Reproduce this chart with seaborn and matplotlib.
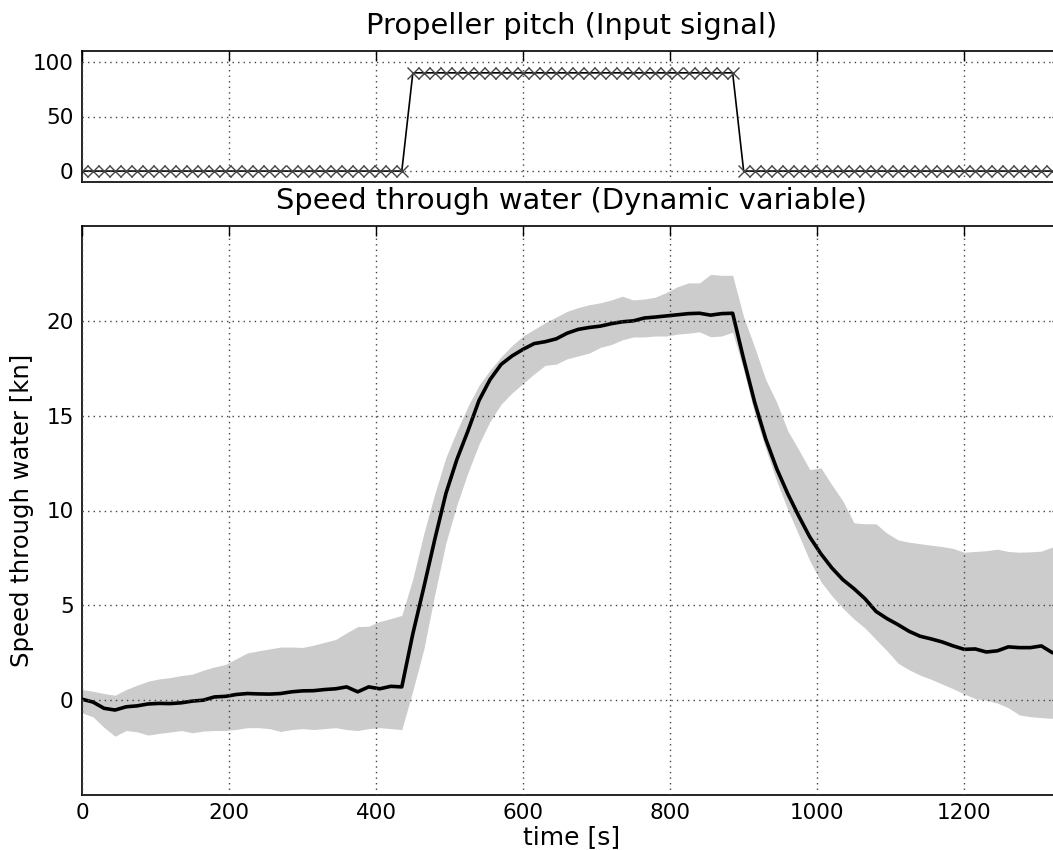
import matplotlib
matplotlib.use("Agg")
import matplotlib.pyplot as plt
import seaborn as sns
import pandas as pd

# ---------------- data ----------------
time_s = [0, 15, 30, 45, 60, 75, 90, 105, 120, 135, 150, 165, 180, 195, 210, 225,
          240, 255, 270, 285, 300, 315, 330, 345, 360, 375, 390, 405, 420, 435,
          450, 465, 480, 495, 510, 525, 540, 555, 570, 585, 600, 615, 630, 645, 660,
          675, 690, 705, 720, 735, 750, 765, 780, 795, 810, 825, 840, 855, 870, 885,
          900, 915, 930, 945, 960, 975, 990, 1005, 1020, 1035, 1050, 1065, 1080, 1095,
          1110, 1125, 1140, 1155, 1170, 1185, 1200, 1215, 1230, 1245, 1260, 1275, 1290,
          1305, 1320]

pitch = [0, 0, 0, 0, 0, 0, 0, 0, 0, 0, 0, 0, 0, 0, 0, 0, 0, 0, 0, 0, 0, 0, 0, 0, 0, 0, 0, 0, 0, 0,
         90, 90, 90, 90, 90, 90, 90, 90, 90, 90, 90, 90, 90, 90, 90, 90, 90, 90, 90, 90,
         90, 90, 90, 90, 90, 90, 90, 90, 90, 90,
         0, 0, 0, 0, 0, 0, 0, 0, 0, 0, 0, 0, 0, 0, 0, 0, 0, 0, 0, 0, 0, 0, 0, 0, 0, 0, 0, 0, 0]

speed_mean = [0.05, -0.1, -0.43, -0.52, -0.35, -0.3, -0.2, -0.17, -0.18, -0.14, -0.05, 0.0,
              0.17, 0.2, 0.3, 0.35, 0.33, 0.32, 0.35, 0.44, 0.49, 0.5, 0.56, 0.6, 0.7, 0.44,
              0.7, 0.6, 0.73, 0.7,
              3.5, 5.96, 8.5, 10.9, 12.7, 14.2, 15.8, 16.9, 17.7, 18.15, 18.5, 18.8, 18.9,
              19.05, 19.35, 19.55, 19.65, 19.72, 19.85, 19.95, 20.0, 20.15, 20.2, 20.26,
              20.32, 20.38, 20.4, 20.3, 20.38, 20.4,
              17.98, 15.7, 13.77, 12.2, 10.88, 9.7, 8.6, 7.72, 6.97, 6.35, 5.88, 5.35, 4.68,
              4.3, 3.98, 3.63, 3.37, 3.23, 3.07, 2.86, 2.68, 2.7, 2.54, 2.6, 2.81, 2.77, 2.77,
              2.86, 2.5]

speed_upper = [0.56, 0.47, 0.35, 0.26, 0.56, 0.79, 1.0, 1.12, 1.19, 1.3, 1.37, 1.58, 1.75,
               1.88, 2.19, 2.49, 2.6, 2.7, 2.8, 2.8, 2.78, 2.9, 3.05, 3.2, 3.55, 3.88, 3.9,
               4.15, 4.3, 4.47,
               6.4, 8.8, 10.9, 12.8, 14.2, 15.5, 16.6, 17.4, 18.1, 18.7, 19.2, 19.55, 19.9,
               20.2, 20.5, 20.7, 20.85, 20.95, 21.1, 21.3, 21.1, 21.15, 21.25, 21.5, 21.8,
               22.0, 22.0, 22.45, 22.4, 22.4,
               20.2, 18.6, 16.9, 15.7, 14.2, 13.2, 12.15, 12.25, 11.35, 10.5, 9.35, 9.3, 9.3,
               8.8, 8.45, 8.33, 8.25, 8.17, 8.1, 8.0, 7.8, 7.84, 7.88, 7.96, 7.84, 7.8, 7.82,
               7.86, 8.07]

speed_lower = [-0.67, -0.88, -1.44, -1.9, -1.6, -1.67, -1.84, -1.75, -1.68, -1.6, -1.72,
               -1.63, -1.6, -1.6, -1.54, -1.45, -1.45, -1.5, -1.65, -1.55, -1.5, -1.55, -1.5,
               -1.45, -1.55, -1.6, -1.5, -1.45, -1.5, -1.55,
               0.5, 2.7, 5.6, 8.3, 10.3, 12.0, 13.5, 14.7, 15.6, 16.2, 16.7, 17.2, 17.65,
               17.72, 18.0, 18.15, 18.3, 18.6, 18.75, 19.0, 19.15, 19.15, 19.2, 19.2, 19.3,
               19.35, 19.42, 19.16, 19.2, 19.4,
               17.4, 15.1, 13.25, 11.55, 10.05, 8.7, 7.35, 6.25, 5.5, 4.85, 4.28, 3.8, 3.2,
               2.6, 1.95, 1.6, 1.32, 1.1, 0.85, 0.6, 0.33, 0.08, 0.0, -0.15, -0.4, -0.78,
               -0.87, -0.92, -0.96]

x_ticks = [0, 200, 400, 600, 800, 1000, 1200]
pitch_ticks = [0, 50, 100]
speed_ticks = [0, 5, 10, 15, 20]

# ---------------- style ----------------
sns.set_style("white")
plt.rcParams.update({
    "font.family": ["DejaVu Sans"],
    "text.color": "black",
    "axes.labelcolor": "black",
    "axes.titlecolor": "black",
    "xtick.direction": "in",
    "ytick.direction": "in",
    "xtick.top": True,
    "ytick.right": True,
    "xtick.major.size": 7,
    "ytick.major.size": 7,
    "xtick.major.width": 1.0,
    "ytick.major.width": 1.0,
    "xtick.color": "black",
    "ytick.color": "black",
    "xtick.labelcolor": "black",
    "ytick.labelcolor": "black",
    "axes.edgecolor": "black",
    "axes.linewidth": 1.2,
    "axes.axisbelow": False,
})

df = pd.DataFrame({"time": time_s, "pitch": pitch, "mean": speed_mean,
                   "upper": speed_upper, "lower": speed_lower})

W, H = 1053, 850
fig = plt.figure(figsize=(W / 100, H / 100), dpi=100)
ax1 = fig.add_axes([82 / W, 1 - 182 / H, 980 / W, 131 / H])
ax2 = fig.add_axes([82 / W, 1 - 795 / H, 980 / W, 569 / H])

grid_kw = dict(color="#444444", linestyle=(0, (1, 3)), linewidth=1.0)

# top: propeller pitch
sns.lineplot(data=df, x="time", y="pitch", ax=ax1, color="black", linewidth=1.2,
             marker="x", markersize=8, markeredgecolor="#444444", markeredgewidth=1.0,
             estimator=None, sort=False)
ax1.set_xlim(0, 1333)
ax1.set_ylim(-10, 110)
ax1.set_xticks(x_ticks)
ax1.set_xticklabels([])
ax1.set_yticks(pitch_ticks)
ax1.grid(True, **grid_kw)
ax1.set_xlabel("")
ax1.set_ylabel("")
ax1.tick_params(labelsize=15.5, pad=6)
ax1.set_title("Propeller pitch (Input signal)", fontsize=20.8, pad=12, color="black")

# bottom: speed through water
ax2.fill_between(df["time"], df["lower"], df["upper"], color="#cccccc", linewidth=0)
sns.lineplot(data=df, x="time", y="mean", ax=ax2, color="black", linewidth=2.6,
             estimator=None, sort=False)
ax2.set_xlim(0, 1333)
ax2.set_ylim(-5, 25)
ax2.set_xticks(x_ticks)
ax2.set_yticks(speed_ticks)
ax2.grid(True, **grid_kw)
ax2.tick_params(labelsize=15.5, pad=6)
ax2.set_title("Speed through water (Dynamic variable)", fontsize=20.8, pad=12, color="black")
ax2.set_xlabel("time [s]", fontsize=18, labelpad=1, color="black")
ax2.set_ylabel("Speed through water [kn]", fontsize=17.5, labelpad=9, color="black")

for ax in (ax1, ax2):
    for s in ax.spines.values():
        s.set_visible(True)
        s.set_color("black")

fig.savefig("out.png", dpi=100)
